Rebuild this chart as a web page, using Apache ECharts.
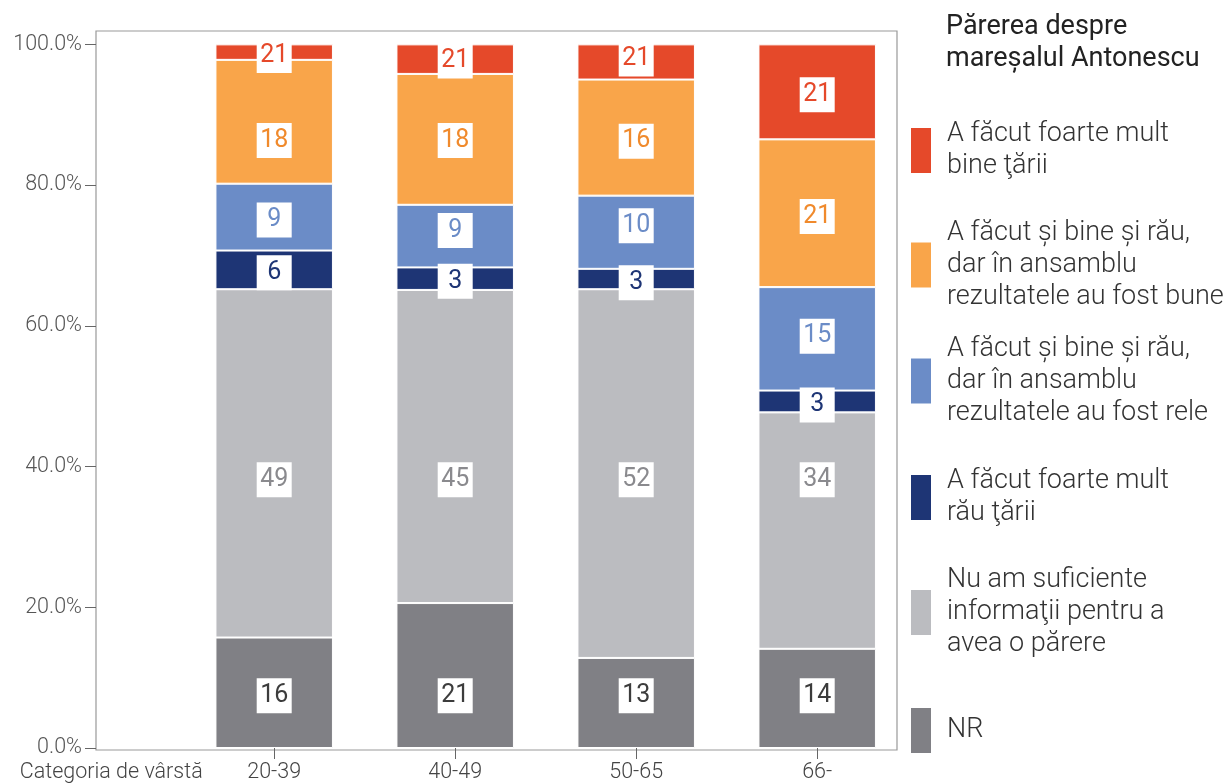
<!DOCTYPE html>
<html>
<head>
<meta charset="utf-8">
<script src="https://cdn.jsdelivr.net/npm/echarts@6.0.0/dist/echarts.min.js"></script>
<style>
  html, body { margin: 0; padding: 0; background: #fff; }
  #chart { width: 1226px; height: 784px; }
</style>
</head>
<body>
<div id="chart"></div>
<script>
const categories = ["20-39", "40-49", "50-65", "66-"];
const yTicks = [0, 20, 40, 60, 80, 100];

// stacked bottom to top
const seriesNames = [
  "NR",
  "Nu am suficiente\ninformaţii pentru a\navea o părere",
  "A făcut foarte mult\nrău ţării",
  "A făcut și bine și rău,\ndar în ansamblu\nrezultatele au fost rele",
  "A făcut și bine și rău,\ndar în ansamblu\nrezultatele au fost bune",
  "A făcut foarte mult\nbine ţării"
];
const nrValues = [15.7, 20.6, 12.8, 14.1];
const noInfoValues = [49.5, 44.5, 52.4, 33.6];
const veryBadValues = [5.5, 3.2, 2.9, 3.1];
const mixedBadValues = [9.5, 8.9, 10.4, 14.7];
const mixedGoodValues = [17.6, 18.6, 16.5, 21.0];
const veryGoodValues = [2.2, 4.2, 5.0, 13.5];

// the numbers printed on the segments
const nrLabels = ["16", "21", "13", "14"];
const noInfoLabels = ["49", "45", "52", "34"];
const veryBadLabels = ["6", "3", "3", "3"];
const mixedBadLabels = ["9", "9", "10", "15"];
const mixedGoodLabels = ["18", "18", "16", "21"];
const veryGoodLabels = ["21", "21", "21", "21"];

// where those numbers sit, in % on the value axis
const nrLabelAt = [8.0, 8.0, 8.0, 8.0];
const noInfoLabelAt = [38.7, 38.7, 38.7, 38.7];
const veryBadLabelAt = [68.1, 66.9, 66.7, 49.3];
const mixedBadLabelAt = [75.6, 74.1, 74.8, 59.1];
const mixedGoodLabelAt = [86.9, 86.9, 86.8, 76.1];
const veryGoodLabelAt = [99.0, 98.2, 98.5, 93.4];

const barColors = ["#808085", "#bbbcc0", "#1e3575", "#6b8cc7", "#f9a54a", "#e5492a"];
const labelColors = ["#3c3c3c", "#8a8a8e", "#1e3575", "#6b8cc7", "#f08a2c", "#e5492a"];
const values = [nrValues, noInfoValues, veryBadValues, mixedBadValues, mixedGoodValues, veryGoodValues];
const labels = [nrLabels, noInfoLabels, veryBadLabels, mixedBadLabels, mixedGoodLabels, veryGoodLabels];
const labelAt = [nrLabelAt, noInfoLabelAt, veryBadLabelAt, mixedBadLabelAt, mixedGoodLabelAt, veryGoodLabelAt];

const FONT = "Roboto, 'Noto Sans', sans-serif";

// legend, top to bottom: [series index, centre y, line count]
const legendRows = [[5, 150.5, 2], [4, 265, 3], [3, 381, 3], [2, 497.5, 2], [1, 612.5, 3], [0, 729.5, 1]];

const chart = echarts.init(document.getElementById("chart"), null, { renderer: "canvas" });

const legends = legendRows.map(([idx, cy, lines]) => {
  const h = Math.max(47, lines * 32);
  return {
    data: [seriesNames[idx]],
    left: 909,
    top: cy - h / 2,
    orient: "vertical",
    icon: "rect",
    itemWidth: 22,
    itemHeight: 47,
    itemGap: 0,
    padding: 0,
    selectedMode: false,
    textStyle: {
      fontFamily: FONT,
      fontSize: 27,
      fontWeight: 300,
      lineHeight: 32,
      color: "#333",
      padding: [0, 0, 0, 10]
    }
  };
});

const barSeries = values.map((vals, s) => ({
  name: seriesNames[s],
  type: "bar",
  stack: "total",
  xAxisIndex: 0,
  yAxisIndex: 0,
  barWidth: 117.5,
  data: vals,
  itemStyle: { color: barColors[s], borderColor: "#fff", borderWidth: 1 },
  emphasis: { disabled: true }
}));

const labelSeries = labelAt.map((pos, s) => ({
  type: "scatter",
  xAxisIndex: 0,
  yAxisIndex: 0,
  symbolSize: 0,
  silent: true,
  z: 5,
  itemStyle: { opacity: 1 },
  data: categories.map((c, i) => [c, pos[i]]),
  label: {
    show: true,
    position: "inside",
    offset: [0, 4],
    opacity: 1,
    formatter: p => labels[s][p.dataIndex],
    backgroundColor: "#fff",
    width: 35,
    height: 35,
    lineHeight: 35,
    align: "center",
    verticalAlign: "middle",
    fontFamily: FONT,
    fontSize: 25,
    fontWeight: 400,
    color: labelColors[s]
  },
  emphasis: { disabled: true }
}));

chart.setOption({
  animation: false,
  title: {
    text: "Părerea despre\nmareșalul Antonescu",
    left: 946,
    top: 11,
    padding: 0,
    textStyle: { fontFamily: FONT, fontSize: 27, fontWeight: 400, lineHeight: 32, color: "#222" }
  },
  legend: legends,
  grid: [
    { left: 183.7, width: 724, top: 31, height: 719 },
    { left: 96, width: 801, top: 31, height: 719, show: true, borderColor: "#999", borderWidth: 1.2 }
  ],
  xAxis: [
    {
      type: "category",
      gridIndex: 0,
      data: categories,
      axisLine: { show: false },
      axisTick: { show: true, alignWithLabel: true, length: 11, lineStyle: { color: "#666" } },
      axisLabel: { fontFamily: FONT, fontSize: 21.5, fontWeight: 300, color: "#444", margin: 14 },
      name: "Categoria de vârstă",
      nameLocation: "start",
      nameGap: -19,
      nameTextStyle: {
        fontFamily: FONT, fontSize: 21.5, fontWeight: 300, color: "#444",
        align: "right", verticalAlign: "top", padding: [14, 0, 0, 0]
      }
    },
    { type: "value", gridIndex: 1, show: false }
  ],
  yAxis: [
    {
      type: "value",
      gridIndex: 0,
      min: 0,
      max: 101.9,
      offset: 87.7,
      splitLine: { show: false },
      axisLine: { show: false },
      axisTick: { show: true, length: 11, customValues: yTicks, lineStyle: { color: "#666" } },
      axisLabel: {
        customValues: yTicks,
        formatter: v => v.toFixed(1) + "%",
        fontFamily: FONT, fontSize: 21.5, fontWeight: 300, color: "#555", margin: 14
      }
    },
    { type: "value", gridIndex: 1, show: false }
  ],
  series: barSeries.concat(labelSeries)
});
</script>
</body>
</html>
